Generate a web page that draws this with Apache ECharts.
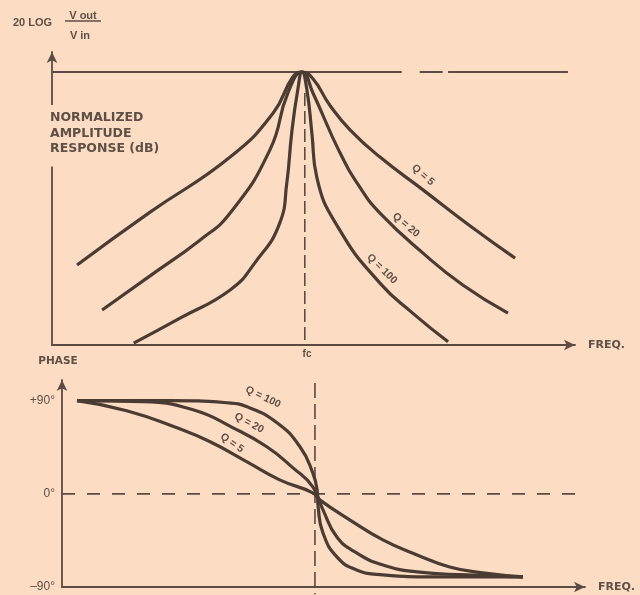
<!DOCTYPE html>
<html>
<head>
<meta charset="utf-8">
<script src="https://cdn.jsdelivr.net/npm/echarts@6/dist/echarts.min.js"></script>
<style>
  html, body { margin: 0; padding: 0; background: #fcdcc2; }
  #chart { width: 640px; height: 595px; }
</style>
</head>
<body>
<div id="chart"></div>
<script>
// amplitude response (frequency in arbitrary units, fc ~ 46)
const ampFreqQ5 = [4.6, 18.0, 32.7, 40.6, 44.2, 45.9, 47.9, 51.0, 54.7, 60.2, 68.1, 76.7, 85.0];
const ampDbQ5 = [-42.4, -30.8, -18.7, -9.0, -1.1, 0, -1.5, -7.3, -12.7, -18.7, -25.9, -33.8, -40.9];
const ampFreqQ20 = [9.2, 18.0, 27.2, 32.7, 40.0, 43.3, 45.9, 47.9, 52.8, 56.5, 60.2, 68.1, 75.4, 83.7];
const ampDbQ20 = [-52.3, -44.8, -36.9, -31.0, -17.1, -4.6, 0, -4.6, -17.6, -25.3, -31.0, -39.8, -46.8, -53.0];
const ampFreqQ100 = [15.0, 23.5, 32.7, 37.2, 41.8, 43.1, 44.0, 45.1, 45.9, 46.8, 47.7, 48.6, 52.8, 60.2, 66.2, 72.7];
const ampDbQ100 = [-59.6, -54.1, -47.9, -42.0, -33.2, -24.4, -13.4, -4.0, 0, -4.0, -13.4, -23.1, -34.7, -46.4, -53.0, -59.3];
const refFreq = [0, 64.2, 64.2, 67.5, 71.7, 71.7, 72.7, 94.7];
const refDb = [0, 0, '-', 0, 0, '-', 0, 0];
const fcAmp = 46.4;

// phase response
const phFreqQ100 = [2.8, 20.2, 30.8, 34.6, 40.2, 44.5, 46.9, 47.7, 47.9, 48.8, 51.4, 55.1, 60.0, 69.3, 86.2];
const phDegQ100 = [90, 90, 88, 84.1, 68.7, 45.5, 20.3, 3.9, -12.6, -37.7, -60.9, -73.5, -78.3, -80.3, -80.3];
const phFreqQ20 = [2.8, 15.1, 24.5, 32.0, 38.3, 43.2, 46.9, 48.8, 51.4, 55.1, 60.0, 66.4, 75.7, 86.2];
const phDegQ20 = [90, 89, 81.2, 63.8, 45.5, 25.1, 6.8, -15.5, -41.6, -57.1, -68.7, -75.4, -78.3, -80.3];
const phFreqQ5 = [2.8, 12.1, 21.5, 27.7, 34.6, 40.7, 46.9, 48.2, 53.8, 60.0, 66.4, 72.5, 78.7, 86.2];
const phDegQ5 = [90, 80.3, 63.8, 50.3, 30.9, 13.5, 1.0, -5.8, -25.1, -44.5, -59.0, -70.6, -76.4, -80.3];
const fcPhase = 47.3;
const phaseTicks = [-90, 0, 90];
const phaseTickLabels = ['\u201390\u00b0', '0\u00b0', '+90\u00b0'];

const bg = '#fcdcc2';
const ink = '#4a3b33';
const axisCol = '#5b4b43';
const textCol = '#5e4f47';

const zip = (xs, ys) => xs.map((x, i) => [x, ys[i]]);

const curve = (name, xs, ys, idx) => ({
  name: name,
  type: 'line',
  xAxisIndex: idx,
  yAxisIndex: idx,
  data: zip(xs, ys),
  smooth: 0.5,
  symbol: 'none',
  lineStyle: { color: ink, width: 3.2 },
  z: 3
});

const axisLine = {
  show: true,
  onZero: false,
  symbol: ['none', 'arrow'],
  symbolSize: [8, 11],
  lineStyle: { color: axisCol, width: 1.8 }
};

const freqName = {
  name: 'FREQ.',
  nameLocation: 'end',
  nameGap: 13,
  nameTextStyle: { color: textCol, fontFamily: 'DejaVu Sans', fontWeight: 'bold', fontSize: 11 }
};

const chart = echarts.init(document.getElementById('chart'));

const qLabel = (text, x, y, rot) => ({
  type: 'text',
  x: x,
  y: y,
  rotation: rot,
  z: 50,
  style: {
    text: text,
    fill: textCol,
    font: 'bold 10.5px "Liberation Sans"',
    align: 'center',
    verticalAlign: 'middle'
  }
});

chart.setOption({
  backgroundColor: bg,
  animation: false,
  grid: [
    { left: 52, top: 52, width: 523, height: 293 },
    { left: 62, top: 380, width: 523, height: 207 }
  ],
  xAxis: [
    Object.assign({
      type: 'value', gridIndex: 0, min: 0, max: 96,
      axisLine: axisLine, axisTick: { show: false }, axisLabel: { show: false }, splitLine: { show: false }
    }, freqName),
    Object.assign({
      type: 'value', gridIndex: 1, min: 0, max: 97.8,
      axisLine: axisLine, axisTick: { show: false }, axisLabel: { show: false }, splitLine: { show: false }
    }, freqName)
  ],
  yAxis: [
    {
      type: 'value', gridIndex: 0, min: -60, max: 4.4,
      axisLine: axisLine, axisTick: { show: false }, axisLabel: { show: false }, splitLine: { show: false }
    },
    {
      type: 'value', gridIndex: 1, min: -90, max: 110, interval: 90,
      axisLine: axisLine, axisTick: { show: false }, splitLine: { show: false },
      axisLabel: {
        show: true,
        margin: 7,
        color: textCol,
        fontFamily: 'Liberation Sans',
        fontSize: 12,
        formatter: (v) => {
          const i = phaseTicks.indexOf(v);
          return i >= 0 ? phaseTickLabels[i] : '';
        }
      },
      name: 'PHASE',
      nameLocation: 'end',
      nameGap: 13,
      nameTextStyle: {
        color: textCol, fontFamily: 'DejaVu Sans', fontWeight: 'bold', fontSize: 10.5,
        padding: [0, 8, 0, 0]
      }
    }
  ],
  series: [
    curve('Q = 5', ampFreqQ5, ampDbQ5, 0),
    curve('Q = 20', ampFreqQ20, ampDbQ20, 0),
    curve('Q = 100', ampFreqQ100, ampDbQ100, 0),
    {
      name: 'ref', type: 'line', xAxisIndex: 0, yAxisIndex: 0,
      data: zip(refFreq, refDb), symbol: 'none', connectNulls: false,
      lineStyle: { color: axisCol, width: 1.8 }, z: 2
    },
    {
      name: 'fc amp', type: 'line', xAxisIndex: 0, yAxisIndex: 0,
      data: [[fcAmp, -4.6], [fcAmp, -60]], symbol: 'none',
      lineStyle: { color: axisCol, width: 1.6, type: [13, 5] }, z: 2
    },
    curve('Q = 100 phase', phFreqQ100, phDegQ100, 1),
    curve('Q = 20 phase', phFreqQ20, phDegQ20, 1),
    curve('Q = 5 phase', phFreqQ5, phDegQ5, 1),
    {
      name: 'zero', type: 'line', xAxisIndex: 1, yAxisIndex: 1,
      data: [[0, 0], [96.6, 0]], symbol: 'none',
      lineStyle: { color: axisCol, width: 1.6, type: [13, 12] }, z: 2
    },
    {
      name: 'fc phase', type: 'line', xAxisIndex: 1, yAxisIndex: 1,
      data: [[fcPhase, 107], [fcPhase, -97]], symbol: 'none', clip: false,
      lineStyle: { color: axisCol, width: 1.6, type: [15, 6] }, z: 2
    }
  ],
  graphic: [
    {
      type: 'text', x: 13, y: 23, z: 50,
      style: { text: '20 LOG', fill: textCol, font: 'bold 11px "Liberation Sans"', align: 'left', verticalAlign: 'middle' }
    },
    {
      type: 'text', x: 83, y: 16, z: 50,
      style: { text: 'V out', fill: textCol, font: 'bold 11px "Liberation Sans"', align: 'center', verticalAlign: 'middle' }
    },
    {
      type: 'line', z: 50,
      shape: { x1: 65, y1: 21, x2: 101, y2: 21 },
      style: { stroke: textCol, lineWidth: 1.4 }
    },
    {
      type: 'text', x: 80, y: 36, z: 50,
      style: { text: 'V in', fill: textCol, font: 'bold 11px "Liberation Sans"', align: 'center', verticalAlign: 'middle' }
    },
    {
      type: 'text', x: 49, y: 105, z: 50,
      style: {
        text: 'NORMALIZED\nAMPLITUDE\nRESPONSE (dB)',
        fill: textCol,
        font: 'bold 12.5px "DejaVu Sans"',
        lineHeight: 15.5,
        align: 'left',
        verticalAlign: 'top',
        backgroundColor: bg,
        padding: [5, 2, 10, 1]
      }
    },
    {
      type: 'text', x: 307, y: 354, z: 50,
      style: { text: 'fc', fill: textCol, font: 'bold 10px "Liberation Sans"', align: 'center', verticalAlign: 'middle' }
    },
    qLabel('Q = 5', 423, 175, -0.72),
    qLabel('Q = 20', 406, 225, -0.7),
    qLabel('Q = 100', 382, 269, -0.78),
    qLabel('Q = 100', 263, 397, -0.45),
    qLabel('Q = 20', 249, 423, -0.5),
    qLabel('Q = 5', 232, 443, -0.6)
  ]
});
</script>
</body>
</html>
